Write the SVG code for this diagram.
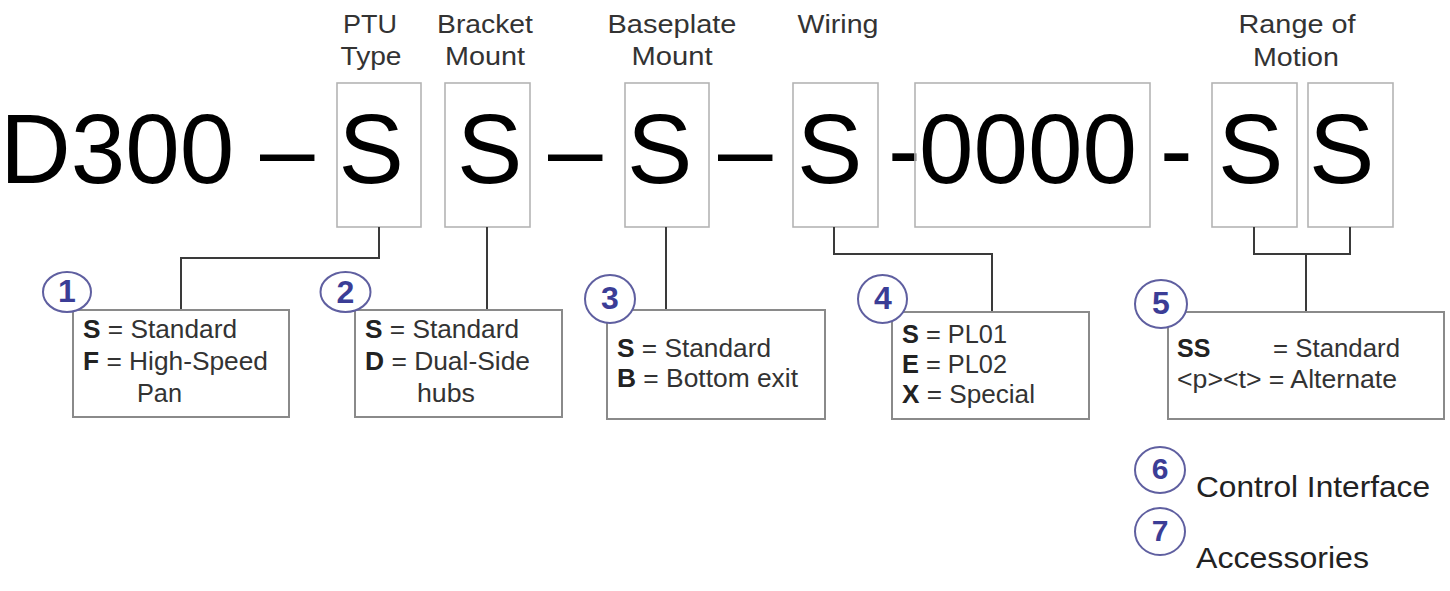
<svg xmlns="http://www.w3.org/2000/svg" width="1450" height="591" viewBox="0 0 1450 591">
<style>
.big{font-family:"Liberation Sans",Arial,sans-serif;font-size:98px;fill:#000}
.hdr{font-family:"Liberation Sans",Arial,sans-serif;font-size:26px;fill:#333;text-anchor:middle}
.leg{font-family:"Liberation Sans",Arial,sans-serif;font-size:25px;fill:#333}
.b{font-weight:bold;fill:#222}
.slot{fill:none;stroke:#b4b4b4;stroke-width:1.6}
.lbox{fill:#fff;stroke:#8a8a8a;stroke-width:2}
.conn{fill:none;stroke:#3a3a3a;stroke-width:2}
.circ{fill:#fff;stroke:#5f5fa0;stroke-width:2}
.num{font-family:"Liberation Sans",Arial,sans-serif;font-weight:bold;font-size:32px;fill:#3b3d96;text-anchor:middle}
.extra{font-family:"Liberation Sans",Arial,sans-serif;font-size:30px;fill:#222}
</style>

<g id="code">
<text class="big" x="0" y="183">D300</text>
<text class="big" x="260" y="183">–</text>
<text class="big" x="548" y="183">–</text>
<text class="big" x="718" y="183">–</text>
<text class="big" x="888" y="183">-</text>
<text class="big" x="1160" y="183">-</text>
</g>

<g id="slot-ptu">
<rect class="slot" x="337" y="83" width="84" height="144"/>
<text class="big" x="338.5" y="183">S</text>
<text class="hdr" x="370" y="33" textLength="54" lengthAdjust="spacingAndGlyphs">PTU</text>
<text class="hdr" x="371" y="65" textLength="61" lengthAdjust="spacingAndGlyphs">Type</text>
</g>
<g id="slot-bracket">
<rect class="slot" x="445" y="83" width="85" height="144"/>
<text class="big" x="457" y="183">S</text>
<text class="hdr" x="485" y="33" textLength="96" lengthAdjust="spacingAndGlyphs">Bracket</text>
<text class="hdr" x="485" y="65" textLength="80" lengthAdjust="spacingAndGlyphs">Mount</text>
</g>
<g id="slot-baseplate">
<rect class="slot" x="625" y="83" width="84" height="144"/>
<text class="big" x="627" y="183">S</text>
<text class="hdr" x="672" y="33" textLength="129" lengthAdjust="spacingAndGlyphs">Baseplate</text>
<text class="hdr" x="672" y="65" textLength="81" lengthAdjust="spacingAndGlyphs">Mount</text>
</g>
<g id="slot-wiring">
<rect class="slot" x="793" y="83" width="85" height="144"/>
<text class="big" x="797" y="183">S</text>
<text class="hdr" x="838" y="33" textLength="81" lengthAdjust="spacingAndGlyphs">Wiring</text>
</g>
<g id="slot-0000">
<rect class="slot" x="915" y="83" width="235" height="144"/>
<text class="big" x="919" y="183">0000</text>
</g>
<g id="slot-range">
<rect class="slot" x="1212" y="83" width="85" height="144"/>
<rect class="slot" x="1308" y="83" width="85" height="144"/>
<text class="big" x="1218" y="183">S</text>
<text class="big" x="1309" y="183">S</text>
<text class="hdr" x="1297" y="33" textLength="117" lengthAdjust="spacingAndGlyphs">Range of</text>
<text class="hdr" x="1296" y="66" textLength="86" lengthAdjust="spacingAndGlyphs">Motion</text>
</g>

<g id="connectors">
<polyline class="conn" points="379,227 379,258 181,258 181,310"/>
<polyline class="conn" points="487,227 487,310"/>
<polyline class="conn" points="666,227 666,310"/>
<polyline class="conn" points="834,227 834,254 992,254 992,312"/>
<polyline class="conn" points="1254,227 1254,254 1350,254 1350,227"/>
<polyline class="conn" points="1306,254 1306,312"/>
</g>

<g id="legend-1">
<rect class="lbox" x="73" y="310" width="216" height="107"/>
<ellipse class="circ" cx="67" cy="292" rx="24" ry="20"/>
<text class="num" x="67" y="302">1</text>
<text class="leg" x="83" y="338" textLength="154" lengthAdjust="spacingAndGlyphs"><tspan class="b">S</tspan> = Standard</text>
<text class="leg" x="83" y="370" textLength="185" lengthAdjust="spacingAndGlyphs"><tspan class="b">F</tspan> = High-Speed</text>
<text class="leg" x="137" y="402" textLength="45" lengthAdjust="spacingAndGlyphs">Pan</text>
</g>
<g id="legend-2">
<rect class="lbox" x="355" y="310" width="207" height="107"/>
<ellipse class="circ" cx="345.5" cy="292" rx="25" ry="20"/>
<text class="num" x="345.5" y="303">2</text>
<text class="leg" x="365" y="338" textLength="154" lengthAdjust="spacingAndGlyphs"><tspan class="b">S</tspan> = Standard</text>
<text class="leg" x="365" y="370" textLength="165" lengthAdjust="spacingAndGlyphs"><tspan class="b">D</tspan> = Dual-Side</text>
<text class="leg" x="417" y="402" textLength="58" lengthAdjust="spacingAndGlyphs">hubs</text>
</g>
<g id="legend-3">
<rect class="lbox" x="607" y="310" width="218" height="109"/>
<ellipse class="circ" cx="610" cy="299" rx="25" ry="24"/>
<text class="num" x="610" y="309">3</text>
<text class="leg" x="617" y="357" textLength="154" lengthAdjust="spacingAndGlyphs"><tspan class="b">S</tspan> = Standard</text>
<text class="leg" x="617" y="387" textLength="181" lengthAdjust="spacingAndGlyphs"><tspan class="b">B</tspan> = Bottom exit</text>
</g>
<g id="legend-4">
<rect class="lbox" x="892" y="312" width="197" height="107"/>
<ellipse class="circ" cx="882.5" cy="299" rx="24.5" ry="24"/>
<text class="num" x="883" y="309">4</text>
<text class="leg" x="902" y="343" textLength="105" lengthAdjust="spacingAndGlyphs"><tspan class="b">S</tspan> = PL01</text>
<text class="leg" x="902" y="373" textLength="105" lengthAdjust="spacingAndGlyphs"><tspan class="b">E</tspan> = PL02</text>
<text class="leg" x="902" y="403" textLength="133" lengthAdjust="spacingAndGlyphs"><tspan class="b">X</tspan> = Special</text>
</g>
<g id="legend-5">
<rect class="lbox" x="1168" y="312" width="276" height="107"/>
<ellipse class="circ" cx="1161" cy="304" rx="26" ry="24"/>
<text class="num" x="1161" y="314">5</text>
<text class="leg b" x="1177" y="357">SS</text>
<text class="leg" x="1273" y="357" textLength="127" lengthAdjust="spacingAndGlyphs">= Standard</text>
<text class="leg" x="1177" y="388" textLength="220" lengthAdjust="spacingAndGlyphs">&lt;p&gt;&lt;t&gt; = Alternate</text>
</g>
<g id="item-6">
<ellipse class="circ" cx="1160" cy="470" rx="25" ry="23"/>
<text class="num" x="1160" y="479" style="font-size:30px">6</text>
<text class="extra" x="1196" y="497" textLength="234" lengthAdjust="spacingAndGlyphs">Control Interface</text>
</g>
<g id="item-7">
<ellipse class="circ" cx="1160" cy="531.5" rx="25" ry="23.5"/>
<text class="num" x="1160" y="541" style="font-size:30px">7</text>
<text class="extra" x="1196" y="568" textLength="173" lengthAdjust="spacingAndGlyphs">Accessories</text>
</g>
</svg>
